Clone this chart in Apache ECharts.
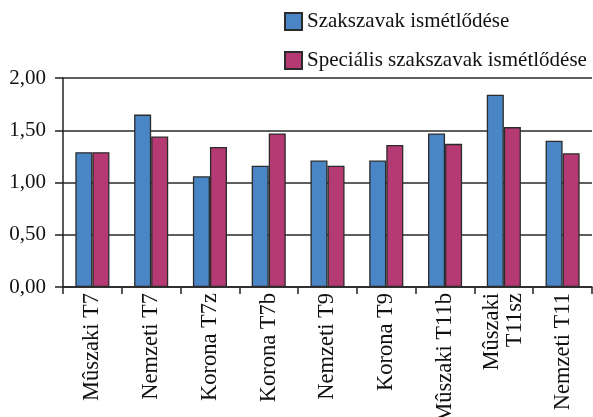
<!DOCTYPE html>
<html>
<head>
<meta charset="utf-8">
<script src="https://cdn.jsdelivr.net/npm/echarts@6/dist/echarts.min.js"></script>
<style>
html,body{margin:0;padding:0;background:#fff;}
#c{width:593px;height:417px;}
</style>
</head>
<body>
<div id="c"></div>
<script>
var categories = ['Mûszaki T7', 'Nemzeti T7', 'Korona T7z', 'Korona T7b', 'Nemzeti T9', 'Korona T9', 'Mûszaki T11b', 'Mûszaki\nT11sz', 'Nemzeti T11'];
var seriesNames = ['Szakszavak ismétlődése', 'Speciális szakszavak ismétlődése'];
var szakszavak = [1.29, 1.65, 1.06, 1.16, 1.21, 1.21, 1.47, 1.84, 1.40];
var specialis = [1.29, 1.44, 1.34, 1.47, 1.16, 1.36, 1.37, 1.53, 1.28];
var yTicks = { min: 0, max: 2, interval: 0.5 };

var FONT = '"Liberation Serif", "Times New Roman", serif';
var chart = echarts.init(document.getElementById('c'), null, { renderer: 'canvas' });
chart.setOption({
  animation: false,
  backgroundColor: '#fff',
  legend: {
    orient: 'vertical',
    left: 284,
    top: 11,
    padding: 0,
    itemWidth: 17,
    itemHeight: 17,
    itemGap: 18,
    icon: 'rect',
    textStyle: { fontFamily: FONT, fontSize: 21, lineHeight: 17, color: '#111' },
    data: seriesNames
  },
  grid: { left: 63, right: 1, top: 78, bottom: 130, containLabel: false, outerBoundsMode: 'none' },
  xAxis: {
    type: 'category',
    data: categories,
    axisLine: { show: true, lineStyle: { color: '#222', width: 1.5 } },
    axisTick: { show: true, alignWithLabel: false, interval: 0, length: 7, lineStyle: { color: '#222', width: 1.5 } },
    axisLabel: {
      interval: 0, rotate: 90, margin: 6,
      fontFamily: FONT, fontSize: 22.5, color: '#111', lineHeight: 23
    }
  },
  yAxis: {
    type: 'value',
    min: yTicks.min, max: yTicks.max, interval: yTicks.interval,
    axisLine: { show: true, lineStyle: { color: '#222', width: 1.5 } },
    axisTick: { show: true, length: 8, lineStyle: { color: '#222', width: 1.5 } },
    splitLine: { show: true, lineStyle: { color: '#2a2a2a', width: 1.6 } },
    axisLabel: {
      margin: 17, fontFamily: FONT, fontSize: 21, color: '#111',
      formatter: function (v) { return v.toFixed(2).replace('.', ','); }
    }
  },
  series: [
    {
      name: seriesNames[0], type: 'bar', data: szakszavak,
      barGap: '0%', barCategoryGap: '42%',
      itemStyle: { color: '#4a86c6', borderColor: '#2b2b2b', borderWidth: 1.3 }
    },
    {
      name: seriesNames[1], type: 'bar', data: specialis,
      barGap: '0%', barCategoryGap: '42%',
      itemStyle: { color: '#b53a74', borderColor: '#2b2b2b', borderWidth: 1.3 }
    }
  ]
});
</script>
</body>
</html>
